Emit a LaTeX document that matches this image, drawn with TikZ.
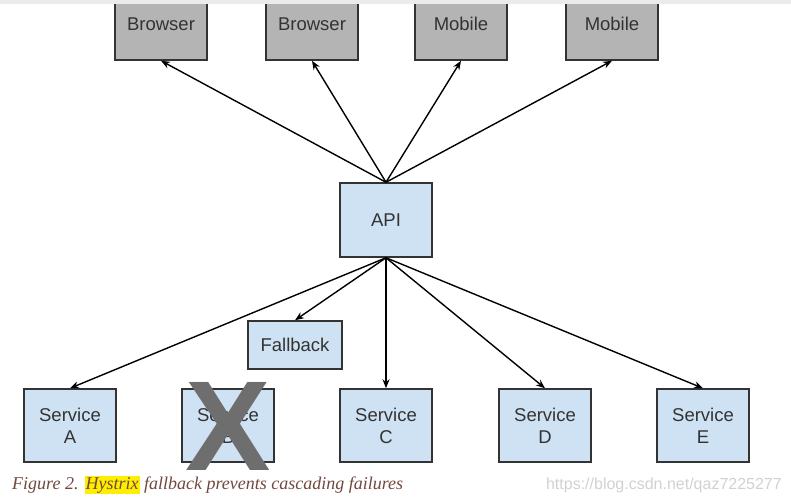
\documentclass[tikz,border=0pt]{standalone}
\usepackage{fontspec}
\setmainfont{Liberation Sans}
\newfontfamily\capfont{Liberation Serif}
\usetikzlibrary{arrows.meta}
\definecolor{boxblue}{RGB}{207,226,243}
\definecolor{boxgrey}{RGB}{180,180,180}
\definecolor{capbrown}{RGB}{112,72,62}
\definecolor{markyellow}{RGB}{255,238,0}
\begin{document}
\begin{tikzpicture}[x=1pt, y=-1pt, >={Stealth[length=9pt,width=7pt]}]
    \tikzstyle{client}=[draw=black!80, line width=1.5pt, fill=boxgrey, text=black!80, minimum width=92pt, minimum height=72pt, font=\fontsize{18.5}{20}\selectfont]
    \tikzstyle{svc}=[draw=black!80, line width=1.5pt, fill=boxblue, text=black!80, minimum width=92pt, minimum height=73pt, align=center, font=\fontsize{18.5}{22}\selectfont]
    \tikzstyle{link}=[->, line width=1.4pt]
    \useasboundingbox (0,0) rectangle (791,499);
    \clip (0,0) rectangle (791,499);
    \node[client] (b1) at (161,24) {Browser};
    \node[client] (b2) at (312,24) {Browser};
    \node[client] (m1) at (461,24) {Mobile};
    \node[client] (m2) at (612,24) {Mobile};
    \fill[black!8] (0,0) rectangle (791,4);
    \node[svc, minimum height=74pt] (api) at (386,220) {API};
    \node[svc, minimum width=94pt, minimum height=48pt] (fb) at (295,345) {Fallback};
    \node[svc] (sa) at (70,425.5) {Service\\A};
    \node[svc] (sb) at (228,425.5) {Service\\B};
    \node[svc] (sc) at (386,425.5) {Service\\C};
    \node[svc] (sd) at (545,425.5) {Service\\D};
    \node[svc] (se) at (703,425.5) {Service\\E};
    \foreach \t in {b1,b2,m1,m2}
      \draw[link] (api.north) -- (\t.south);
    \foreach \t in {sa,fb,sc,sd,se}
      \draw[link] (api.south) -- (\t.north);
    \node[inner sep=0, text=black!57, font=\fontsize{128}{128}\selectfont\bfseries] (cross) at (228,426) {X};
    \node[anchor=base west, inner sep=0, text=capbrown, font=\capfont\itshape\fontsize{18}{20}\selectfont] (caption) at (12,489)
      {Figure 2. {\fboxsep=1pt\colorbox{markyellow}{Hystrix}} fallback prevents cascading failures};
    \node[anchor=base east, inner sep=0, text=black!18, font=\fontsize{16}{18}\selectfont] (mark) at (782,489) {https://blog.csdn.net/qaz7225277};
\end{tikzpicture}
\end{document}
